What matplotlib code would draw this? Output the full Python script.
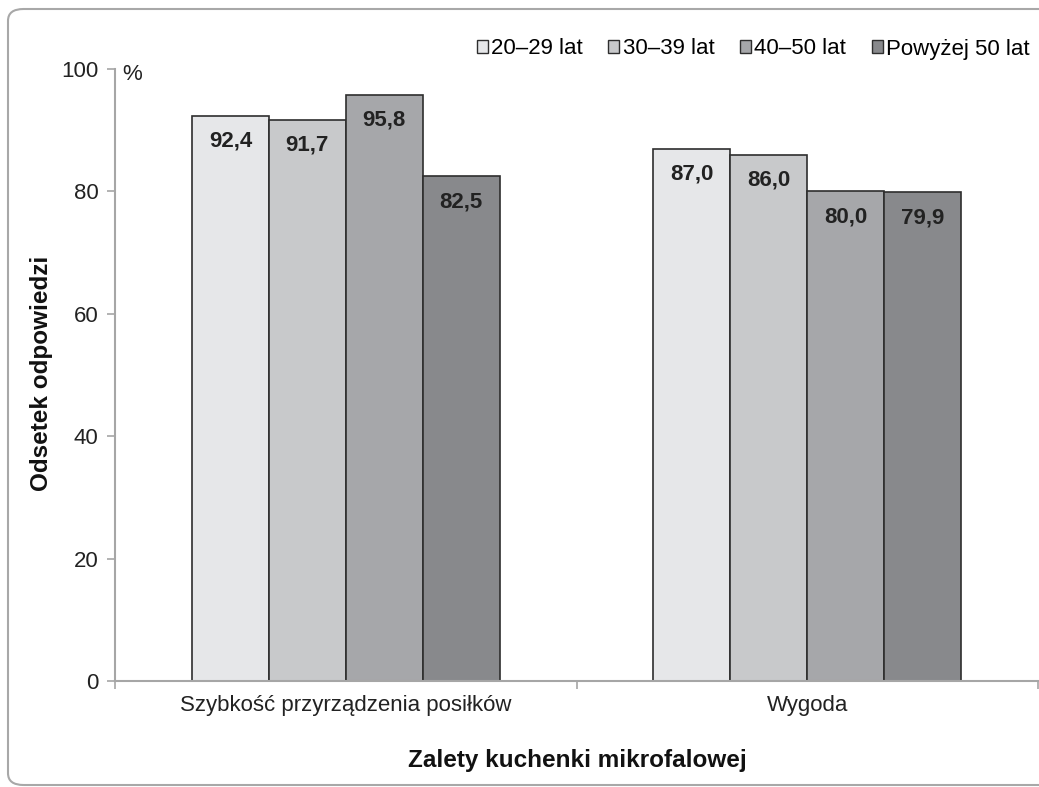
import matplotlib.pyplot as plt
from matplotlib.patches import Patch, FancyBboxPatch
import numpy as np

plt.rcParams['font.family'] = ['Liberation Sans', 'DejaVu Sans']

# Data
categories = ["Szybkość przyrządzenia posiłków", "Wygoda"]
series_names = ["20–29 lat", "30–39 lat", "40–50 lat", "Powyżej 50 lat"]
values_2029 = [92.4, 87.0]
values_3039 = [91.7, 86.0]
values_4050 = [95.8, 80.0]
values_50plus = [82.5, 79.9]
y_ticks = [0, 20, 40, 60, 80, 100]

series_values = [values_2029, values_3039, values_4050, values_50plus]
colors = ["#e6e7e9", "#c8c9cb", "#a6a7aa", "#88898c"]
edge = "#2e2e2e"
axis_grey = "#a6a6a6"

fig = plt.figure(figsize=(10.39, 7.87), dpi=100)
ax = fig.add_axes([115 / 1039, 1 - 681 / 787, (1038 - 115) / 1039, (681 - 69) / 787])

x = np.arange(len(categories))
width = 1 / 6
for i, (name, vals) in enumerate(zip(series_names, series_values)):
    offs = (i - 1.5) * width
    bars = ax.bar(x + offs, vals, width, color=colors[i], edgecolor=edge,
                  linewidth=1.2, label=name, zorder=2)
    for b, v in zip(bars, vals):
        ax.annotate(f"{v:.1f}".replace(".", ","),
                    (b.get_x() + b.get_width() / 2, v),
                    xytext=(0, -18.5), textcoords="offset points",
                    ha="center", va="center", fontsize=16,
                    fontweight="bold", color="#222222")

ax.set_xlim(-0.5, 1.5)
ax.set_ylim(0, 100)
ax.set_yticks(y_ticks)
ax.tick_params(axis="y", labelsize=16, colors=axis_grey, labelcolor="#222222",
               length=6, width=1.2, pad=6)
ax.set_xticks([-0.5, 0.5, 1.5])
ax.set_xticklabels([])
ax.set_xticks(x, minor=True)
ax.set_xticklabels(categories, minor=True)
ax.tick_params(axis="x", which="major", colors=axis_grey, length=6, width=1.2)
ax.tick_params(axis="x", which="minor", length=0, labelsize=16,
               labelcolor="#222222", pad=10)

for s in ["top", "right"]:
    ax.spines[s].set_visible(False)
for s in ["left", "bottom"]:
    ax.spines[s].set_color(axis_grey)
    ax.spines[s].set_linewidth(1.5)

fig.text(122 / 1039, 1 - 75 / 787, "%", fontsize=16, color="#222222",
         ha="left", va="center")
fig.text(42 / 1039, 1 - 373 / 787, "Odsetek odpowiedzi", rotation=90,
         fontsize=17.5, fontweight="bold", ha="center", va="center", color="#111111")
fig.text(577 / 1039, 1 - 760 / 787, "Zalety kuchenki mikrofalowej",
         fontsize=17.5, fontweight="bold", ha="center", va="center", color="#111111")

handles = [Patch(facecolor=c, edgecolor=edge, linewidth=1.0) for c in colors]
fig.legend(handles, series_names, loc="center right",
           bbox_to_anchor=(1030 / 1039, 1 - 49 / 787), ncol=4, frameon=False,
           fontsize=16, handlelength=0.5, handleheight=0.5,
           handletextpad=0.15, columnspacing=1.15, borderaxespad=0, borderpad=0)

border = FancyBboxPatch((8 / 1039, 1 - 785 / 787), 1.05, (785 - 9) / 787,
                        boxstyle="round,pad=0,rounding_size=0.015",
                        transform=fig.transFigure, facecolor="none",
                        edgecolor="#a8a8a8", linewidth=1.5, clip_on=False)
fig.patches.append(border)

fig.savefig("out.png", dpi=100)
